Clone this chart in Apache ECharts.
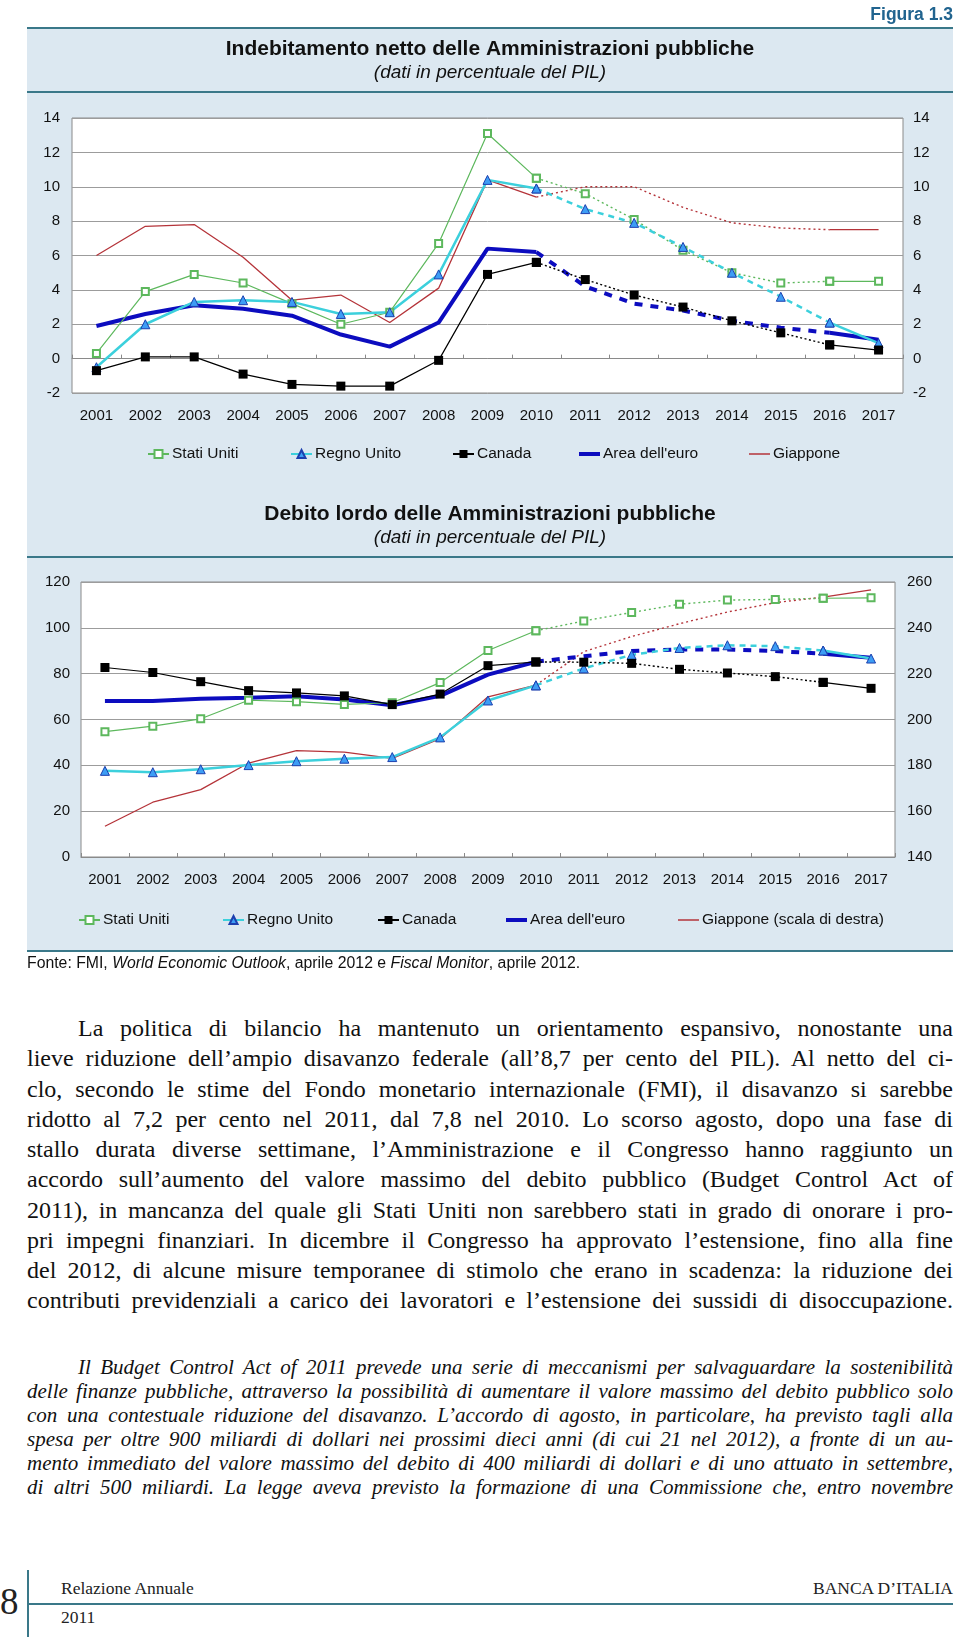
<!DOCTYPE html>
<html><head><meta charset="utf-8">
<script src="https://cdn.jsdelivr.net/npm/echarts@6/dist/echarts.min.js"></script>
<style>
html,body{margin:0;padding:0;background:#fff;width:960px;height:1641px;overflow:hidden;position:relative}
#chart{position:absolute;left:0;top:0;width:960px;height:960px}
.fonte{position:absolute;left:27px;top:954px;font:15.8px "Liberation Sans",Arial,sans-serif;line-height:18px;color:#111;white-space:nowrap}
.body{position:absolute;left:27px;width:926px;top:1013px;font:24px "Liberation Serif","Times New Roman",serif;line-height:30.25px;color:#111}
.body div{text-align:justify;text-align-last:justify}
.ital{position:absolute;left:27px;width:926px;top:1355px;font:italic 21px "Liberation Serif","Times New Roman",serif;line-height:24px;color:#111}
.ital div{text-align:justify;text-align-last:justify}
.ind{text-indent:51px}
.ft{position:absolute;font:17.5px "Liberation Serif","Times New Roman",serif;line-height:20px;color:#222;white-space:nowrap}
</style></head>
<body>
<div id="chart"></div>
<div class="fonte">Fonte: FMI, <i>World Economic Outlook</i>, aprile 2012 e <i>Fiscal Monitor</i>, aprile 2012.</div>
<div class="body">
<div class="ind">La politica di bilancio ha mantenuto un orientamento espansivo, nonostante una</div>
<div>lieve riduzione dell’ampio disavanzo federale (all’8,7 per cento del PIL). Al netto del ci-</div>
<div>clo, secondo le stime del Fondo monetario internazionale (FMI), il disavanzo si sarebbe</div>
<div>ridotto al 7,2 per cento nel 2011, dal 7,8 nel 2010. Lo scorso agosto, dopo una fase di</div>
<div>stallo durata diverse settimane, l’Amministrazione e il Congresso hanno raggiunto un</div>
<div>accordo sull’aumento del valore massimo del debito pubblico (Budget Control Act of</div>
<div>2011), in mancanza del quale gli Stati Uniti non sarebbero stati in grado di onorare i pro-</div>
<div>pri impegni finanziari. In dicembre il Congresso ha approvato l’estensione, fino alla fine</div>
<div>del 2012, di alcune misure temporanee di stimolo che erano in scadenza: la riduzione dei</div>
<div>contributi previdenziali a carico dei lavoratori e l’estensione dei sussidi di disoccupazione.</div>
</div>
<div class="ital">
<div class="ind">Il Budget Control Act of 2011 prevede una serie di meccanismi per salvaguardare la sostenibilità</div>
<div>delle finanze pubbliche, attraverso la possibilità di aumentare il valore massimo del debito pubblico solo</div>
<div>con una contestuale riduzione del disavanzo. L’accordo di agosto, in particolare, ha previsto tagli alla</div>
<div>spesa per oltre 900 miliardi di dollari nei prossimi dieci anni (di cui 21 nel 2012), a fronte di un au-</div>
<div>mento immediato del valore massimo del debito di 400 miliardi di dollari e di uno attuato in settembre,</div>
<div>di altri 500 miliardi. La legge aveva previsto la formazione di una Commissione che, entro novembre</div>
</div>
<div style="position:absolute;left:0;top:1580px;font:37px 'Liberation Serif',serif;line-height:44px;color:#222">8</div>
<div style="position:absolute;left:27px;top:1570px;width:1.5px;height:67px;background:#3a7889"></div>
<div style="position:absolute;left:27px;top:1603px;width:926px;height:2px;background:#3a7889"></div>
<div class="ft" style="left:61px;top:1578px">Relazione Annuale</div>
<div class="ft" style="left:61px;top:1607px">2011</div>
<div class="ft" style="right:7px;top:1578px">BANCA D’ITALIA</div>
<script>
// ---- data ----
const years = ['2001','2002','2003','2004','2005','2006','2007','2008','2009','2010','2011','2012','2013','2014','2015','2016','2017'];
// Indebitamento netto (% PIL)
const net_us = [0.3, 3.9, 4.9, 4.4, 3.2, 2.0, 2.7, 6.7, 13.1, 10.5, 9.6, 8.1, 6.3, 5.0, 4.4, 4.5, 4.5];
const net_uk = [-0.5, 2.0, 3.3, 3.4, 3.3, 2.6, 2.7, 4.9, 10.4, 9.9, 8.7, 7.9, 6.5, 5.0, 3.6, 2.1, 0.9];
const net_ca = [-0.7, 0.1, 0.1, -0.9, -1.5, -1.6, -1.6, -0.1, 4.9, 5.6, 4.6, 3.7, 3.0, 2.2, 1.5, 0.8, 0.5];
const net_ea = [1.9, 2.6, 3.1, 2.9, 2.5, 1.4, 0.7, 2.1, 6.4, 6.2, 4.2, 3.2, 2.8, 2.2, 1.8, 1.5, 1.1];
const net_jp = [6.0, 7.7, 7.8, 5.9, 3.4, 3.7, 2.1, 4.1, 10.4, 9.4, 10.0, 10.0, 8.8, 7.9, 7.6, 7.5, 7.5];
// Debito lordo (% PIL); Giappone on right scale
const debt_us = [54.7, 57.1, 60.3, 68.4, 67.8, 66.6, 67.3, 76.1, 90.1, 98.7, 103.0, 106.7, 110.3, 112.1, 112.4, 112.9, 113.1];
const debt_uk = [37.6, 37.0, 38.3, 40.1, 41.8, 42.9, 43.6, 52.2, 68.3, 74.9, 82.3, 88.2, 91.2, 92.4, 92.0, 90.1, 86.6];
const debt_ca = [82.7, 80.5, 76.5, 72.6, 71.6, 70.3, 66.5, 71.1, 83.5, 85.1, 85.0, 84.5, 81.9, 80.3, 78.7, 76.2, 73.6];
const debt_ea = [68.1, 68.1, 69.1, 69.5, 70.1, 68.7, 66.2, 70.3, 79.6, 85.2, 87.6, 89.9, 90.6, 90.5, 89.9, 88.7, 86.9];
const debt_jp = [153.4, 163.9, 169.4, 181.0, 186.4, 185.8, 183.0, 191.6, 209.9, 215.0, 229.6, 236.2, 241.8, 246.9, 251.0, 253.4, 256.6];
// tick settings
const netAxis = {min: -2, max: 14, interval: 2};
const debtAxisL = {min: 0, max: 120, interval: 20};
const debtAxisR = {min: 140, max: 260, interval: 20};
const names1 = ['Stati Uniti','Regno Unito','Canada',"Area dell'euro",'Giappone'];
const names2 = ['Stati Uniti','Regno Unito','Canada',"Area dell'euro",'Giappone (scala di destra)'];

// ---- styles ----
const FONT = '"Liberation Sans", Arial, Helvetica, sans-serif';
const TEAL = '#3a7889';
const C = {us:'#5db85d', uk:'#3cd0dc', ca:'#000000', ea:'#0c0cbf', jp:'#b5343a'};
const HIST_END = 9, PROJ_END = 15;
function seg(v, a, b){ return v.map((x,i)=> (i>=a && i<=b) ? x : null); }

const styles = {
  us: {symbol:'emptyRect', symbolSize:7, item:{color:C.us, borderWidth:1.2}, w:1.2, pw:1.4, dash:[2,3]},
  uk: {symbol:'triangle', symbolSize:9, item:{color:'#3d9df5', borderColor:'#1c3fae', borderWidth:1}, w:2.5, pw:2.5, dash:[6,5]},
  ca: {symbol:'rect', symbolSize:9, item:{color:'#000'}, w:1.2, pw:1.4, dash:[2,2.5]},
  ea: {symbol:'none', symbolSize:0, item:{color:C.ea}, w:4, pw:4, dash:[8,8]},
  jp: {symbol:'none', symbolSize:0, item:{color:C.jp}, w:1.3, pw:1.4, dash:[2,3]}
};

function buildSeries(key, name, vals, xi, yi){
  const s = styles[key], col = C[key];
  const base = {type:'line', xAxisIndex:xi, yAxisIndex:yi, symbol:s.symbol, symbolSize:s.symbolSize,
    showAllSymbol:true, itemStyle:s.item, animation:false, emphasis:{disabled:true}, connectNulls:false};
  return [
    Object.assign({}, base, {name:name, data:seg(vals,0,HIST_END), lineStyle:{color:col, width:s.w}}),
    Object.assign({}, base, {name:name+' proiezioni', data:seg(vals,HIST_END,PROJ_END), lineStyle:{color:col, width:s.pw, type:s.dash}}),
    Object.assign({}, base, {name:name+' fine', data:seg(vals,PROJ_END,16), lineStyle:{color:col, width:s.w}})
  ];
}

let series = [];
// chart 1
series = series.concat(buildSeries('jp', names1[4], net_jp, 0, 0));
series = series.concat(buildSeries('ea', names1[3], net_ea, 0, 0));
series = series.concat(buildSeries('us', names1[0], net_us, 0, 0));
series = series.concat(buildSeries('uk', names1[1], net_uk, 0, 0));
series = series.concat(buildSeries('ca', names1[2], net_ca, 0, 0));
// chart 2
series = series.concat(buildSeries('jp', names2[4], debt_jp, 1, 3));
series = series.concat(buildSeries('ea', names2[3]+' ', debt_ea, 1, 2));
series = series.concat(buildSeries('us', names2[0]+' ', debt_us, 1, 2));
series = series.concat(buildSeries('uk', names2[1]+' ', debt_uk, 1, 2));
series = series.concat(buildSeries('ca', names2[2]+' ', debt_ca, 1, 2));

const axisLbl = {color:'#111', fontSize:15, fontFamily:FONT};
function xAx(gi){
  return {type:'category', gridIndex:gi, data:years, boundaryGap:true,
    axisLine:{show:true, lineStyle:{color:'#8a8a8a', width:1}},
    axisTick:{show:true, inside:true, length:4, interval:0, lineStyle:{color:'#8a8a8a'}},
    axisLabel:Object.assign({margin:15, interval:0}, axisLbl), splitLine:{show:false}};
}
function yAx(gi, rng, pos, split, margin){
  return Object.assign({type:'value', gridIndex:gi, position:pos,
    axisLine:{show:false}, axisTick:{show:false},
    axisLabel:Object.assign({margin:margin}, axisLbl),
    splitLine:{show:split, lineStyle:{color:'#9c9c9c', width:1}}}, rng);
}

// legend: one component per item; line-only series get a plain bar icon
const lineOnly = {"Area dell'euro":4, "Area dell'euro ":4, 'Giappone':1.5, 'Giappone (scala di destra)':1.5};
function legendItem(name, left, top){
  const h = lineOnly[name];
  return {data:[h ? {name:name, icon:'rect'} : name], left:left, top:top, itemWidth:21, itemHeight:h || 10, padding:0, itemGap:0,
    selectedMode:false, formatter:(t)=>t.trim(),
    textStyle:{fontSize:15.5, color:'#111', fontFamily:FONT, padding:[0,0,0,-2]}};
}
const leg1x = [147, 290, 452, 579, 749];
const leg2x = [78, 222, 377, 506, 678];
const legends = [];
names1.forEach((n,i)=>legends.push(legendItem(n, leg1x[i], 446)));
const names2leg = [names2[0]+' ', names2[1]+' ', names2[2]+' ', names2[3]+' ', names2[4]];
names2leg.forEach((n,i)=>legends.push(legendItem(n, leg2x[i], 912)));

function txt(t, x, y, font, align, fill){
  return {type:'text', x:x, y:y, silent:true, style:{text:t, font:font, fill:fill||'#111', textAlign:align||'center', textVerticalAlign:'middle'}};
}
function hline(y){ return {type:'rect', silent:true, shape:{x:27, y:y-1, width:926, height:2}, style:{fill:TEAL}}; }

const option = {
  animation:false,
  backgroundColor:'#ffffff',
  grid:[
    {left:72, top:118, width:831, height:275, show:true, backgroundColor:'#ffffff', borderColor:'#8a8a8a', borderWidth:1},
    {left:81, top:582, width:814, height:275, show:true, backgroundColor:'#ffffff', borderColor:'#8a8a8a', borderWidth:1}
  ],
  xAxis:[xAx(0), xAx(1)],
  yAxis:[
    yAx(0, netAxis, 'left', true, 12),
    yAx(0, netAxis, 'right', false, 10),
    yAx(1, debtAxisL, 'left', true, 11),
    yAx(1, debtAxisR, 'right', false, 12)
  ],
  legend:legends,
  graphic:{elements:[
    {type:'rect', z:-100, silent:true, shape:{x:27, y:28, width:926, height:923}, style:{fill:'#dce8f1'}},
    hline(28), hline(92), hline(557), hline(951),
    txt('Figura 1.3', 953, 15, 'bold 17.5px ' + FONT, 'right', '#21648f'),
    txt('Indebitamento netto delle Amministrazioni pubbliche', 490, 49, 'bold 21px ' + FONT),
    txt('(dati in percentuale del PIL)', 490, 73, 'italic 19px ' + FONT),
    txt('Debito lordo delle Amministrazioni pubbliche', 490, 514, 'bold 21px ' + FONT),
    txt('(dati in percentuale del PIL)', 490, 538, 'italic 19px ' + FONT)
  ]},
  series:series
};
const chart = echarts.init(document.getElementById('chart'), null, {renderer:'canvas'});
chart.setOption(option);
</script>
</body></html>
